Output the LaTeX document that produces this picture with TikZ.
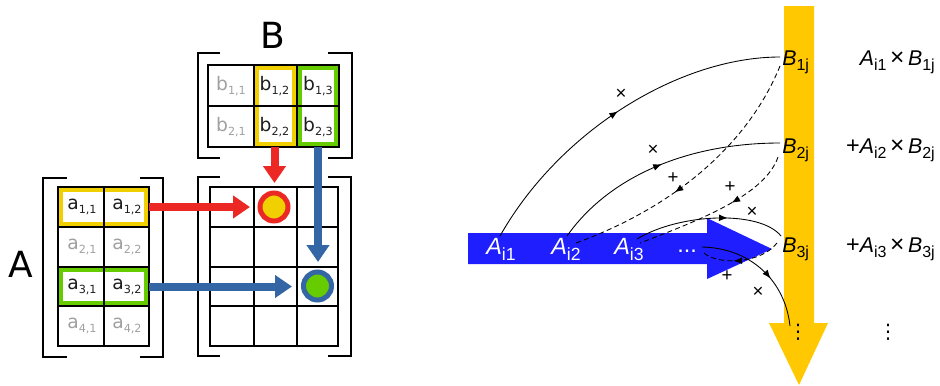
\documentclass[tikz,border=0pt]{standalone}
\usepackage{fontspec}
\setmainfont{Liberation Sans}
\newfontfamily\dejavu{DejaVu Sans}
\usetikzlibrary{arrows.meta,decorations.markings}

\definecolor{hlred}{RGB}{236,40,36}
\definecolor{hlblue}{RGB}{52,101,164}
\definecolor{hlyellow}{RGB}{240,208,0}
\definecolor{hlgreen}{RGB}{102,204,0}
\definecolor{celltext}{RGB}{30,30,30}
\definecolor{cellgrey}{RGB}{160,160,160}
\definecolor{bigblue}{RGB}{30,30,255}
\definecolor{bigorange}{RGB}{255,200,0}

\newcommand{\lsub}[1]{\raisebox{-0.22em}{\scalebox{0.6}{#1}}}
\newcommand{\rsub}[1]{\raisebox{-0.27em}{\scalebox{0.75}{\upshape #1}}}

\tikzset{
  gridline/.style={line width=1.1pt, black, line cap=rect},
  bracket/.style={line width=2.2pt, black},
  hlbox/.style={line width=3.75pt},
  fatarrow/.style={line width=6pt, -{Triangle[length=12.75pt, width=16.5pt]}},
  celltxt/.style={font=\dejavu\fontsize{14}{16}\selectfont, text=celltext, inner sep=0},
  cellgr/.style={font=\dejavu\fontsize{14}{16}\selectfont, text=cellgrey, inner sep=0},
  biglab/.style={font=\dejavu\fontsize{27}{30}\selectfont, inner sep=0},
  ring/.style={circle, line width=3.75pt, minimum size=21pt, inner sep=0},
  alab/.style={anchor=base west, inner sep=0, text=white, font=\fontsize{17.6}{20}\selectfont},
  blab/.style={anchor=base west, inner sep=0, font=\fontsize{16}{18}\selectfont},
  rlab/.style={anchor=base east, inner sep=0, font=\fontsize{16}{18}\selectfont},
  vdotlab/.style={inner sep=0, font=\dejavu\fontsize{15}{17}\selectfont},
  oplab/.style={inner sep=0, font=\fontsize{14}{14}\selectfont},
  solidc/.style={line width=0.65pt, black},
  dashc/.style={line width=0.65pt, black, dash pattern=on 3.8pt off 2.4pt},
  midarrow/.style={postaction={decorate}, decoration={markings,
     mark=at position #1 with {\arrow{Latex[length=6.5pt,width=5pt]}}}},
}

\begin{document}
\begin{tikzpicture}[x=0.75pt, y=-0.75pt]
\useasboundingbox (0,0) rectangle (940,386);

% ================= LEFT PART =================
% labels
\node[biglab] (labB) at (273,35) {B};
\node[biglab] (labA) at (21,264) {A};

% highlight boxes
\draw[hlbox, hlyellow] (60.5,189.5) rectangle (146.5,224.5);
\draw[hlbox, hlgreen] (60.5,269.5) rectangle (146.5,303.5);
\draw[hlbox, hlyellow] (256,67.5) rectangle (294.5,144.5);
\draw[hlbox, hlgreen] (299.5,67.5) rectangle (336.5,144.5);

% A grid
\foreach \y in {187,227,267,306,346} \draw[gridline] (58,\y) -- (149,\y);
\foreach \x in {58,104,149} \draw[gridline] (\x,187) -- (\x,346);
% B grid
\foreach \y in {65,106,147} \draw[gridline] (208,\y) -- (339,\y);
\foreach \x in {208,254,297,339} \draw[gridline] (\x,65) -- (\x,147);
% C grid
\foreach \y in {187,227,267,306,346} \draw[gridline] (210,\y) -- (338,\y);
\foreach \x in {210,254,297,338} \draw[gridline] (\x,187) -- (\x,346);

% brackets
\draw[bracket] (67,178) -- (43,178) -- (43,357) -- (67,357);
\draw[bracket] (140,178) -- (163,178) -- (163,357) -- (140,357);
\draw[bracket] (220,53) -- (198,53) -- (198,158) -- (220,158);
\draw[bracket] (328,53) -- (352,53) -- (352,158) -- (328,158);
\draw[bracket] (220,177) -- (198,177) -- (198,356) -- (220,356);
\draw[bracket] (328,177) -- (351,177) -- (351,356) -- (328,356);

% A entries
\node[celltxt] (a11) at (82,207) {a\lsub{1,1}};
\node[celltxt] (a12) at (127,207) {a\lsub{1,2}};
\node[cellgr]  (a21) at (82,247) {a\lsub{2,1}};
\node[cellgr]  (a22) at (127,247) {a\lsub{2,2}};
\node[celltxt] (a31) at (82,286.5) {a\lsub{3,1}};
\node[celltxt] (a32) at (127,286.5) {a\lsub{3,2}};
\node[cellgr]  (a41) at (82,326) {a\lsub{4,1}};
\node[cellgr]  (a42) at (127,326) {a\lsub{4,2}};
% B entries
\node[cellgr]  (b11) at (231,86) {b\lsub{1,1}};
\node[celltxt] (b12) at (274.5,86) {b\lsub{1,2}};
\node[celltxt] (b13) at (318,86) {b\lsub{1,3}};
\node[cellgr]  (b21) at (231,127) {b\lsub{2,1}};
\node[celltxt] (b22) at (274.5,127) {b\lsub{2,2}};
\node[celltxt] (b23) at (318,127) {b\lsub{2,3}};

% result circles
\node[ring, draw=hlred, fill=hlyellow] (c12) at (274,207) {};
\node[ring, draw=hlblue, fill=hlgreen] (c32) at (317.5,286) {};

% arrows
\coordinate (rowA1) at (149,207);
\coordinate (rowA3) at (149,286.5);
\coordinate (colB2) at (274.5,147);
\coordinate (colB3) at (318,147);
\coordinate (tipR1) at (250,207);
\coordinate (tipR2) at (274.5,183);
\coordinate (tipB1) at (292,286.5);
\coordinate (tipB2) at (318,262);
\draw[fatarrow, hlred] (rowA1) -- (tipR1);
\draw[fatarrow, hlred] (colB2) -- (tipR2);
\draw[fatarrow, hlblue] (rowA3) -- (tipB1);
\draw[fatarrow, hlblue] (colB3) -- (tipB2);

% ================= RIGHT PART =================
\fill[bigorange] (784,6) -- (814,6) -- (814,323) -- (828,323) -- (799,385) -- (769,323) -- (784,323) -- cycle;
\fill[bigblue] (468,233) -- (707,233) -- (707,218) -- (772,249) -- (707,279) -- (707,264) -- (468,264) -- cycle;

% labels on blue arrow
\node[alab] (Ai1) at (486,254) {\textit{A}\rsub{i1}};
\node[alab] (Ai2) at (551,254) {\textit{A}\rsub{i2}};
\node[alab] (Ai3) at (614,254) {\textit{A}\rsub{i3}};
\node[alab] (Adots) at (677,252) {...};

% labels on orange arrow
\node[blab] (B1) at (782,65) {\textit{B}\rsub{1j}};
\node[blab] (B2) at (782,153) {\textit{B}\rsub{2j}};
\node[blab] (B3) at (782,252) {\textit{B}\rsub{3j}};
\node[vdotlab] (Bdots) at (798,332) {⋮};

% right column
\node[rlab] (r1) at (935,65) {\textit{A}\rsub{i1}\,\scalebox{1.15}{×}\,\textit{B}\rsub{1j}};
\node[rlab] (r2) at (935,153) {\scalebox{1.1}{+}\textit{A}\rsub{i2}\,\scalebox{1.15}{×}\,\textit{B}\rsub{2j}};
\node[rlab] (r3) at (935,252) {\scalebox{1.1}{+}\textit{A}\rsub{i3}\,\scalebox{1.15}{×}\,\textit{B}\rsub{3j}};
\node[vdotlab] (rdots) at (888,332) {⋮};

% curve end points
\coordinate (s1a) at (500,236);
\coordinate (s1b) at (780,57);
\coordinate (s2a) at (567,236);
\coordinate (s2b) at (780,143);
\coordinate (s3a) at (637,239);
\coordinate (s3b) at (781,236);
\coordinate (s4a) at (702,247);
\coordinate (s4b) at (790,326);
\coordinate (d1a) at (780,66);
\coordinate (d1b) at (576,243);
\coordinate (d2a) at (778,157);
\coordinate (d2b) at (640,243);
\coordinate (d3a) at (777,243);
\coordinate (d3b) at (703,252);

% solid (multiply) curves
\draw[solidc, midarrow=0.5] (s1a) .. controls (560,130) and (680,57) .. (s1b);
\draw[solidc, midarrow=0.5] (s2a) .. controls (610,175) and (690,143) .. (s2b);
\draw[solidc, midarrow=0.62] (s3a) .. controls (680,213) and (760,210) .. (s3b);
\draw[solidc, midarrow=0.6] (s4a) .. controls (750,248) and (785,280) .. (s4b);
% dashed (add) curves
\draw[dashc, midarrow=0.6] (d1a) .. controls (750,140) and (680,205) .. (d1b);
\draw[dashc, midarrow=0.4] (d2a) .. controls (765,195) and (700,220) .. (d2b);
\draw[dashc, midarrow=0.6] (d3a) .. controls (760,265) and (715,265) .. (d3b);

% operator marks
\node[oplab] (x1) at (621,94) {×};
\node[oplab] (x2) at (653,150) {×};
\node[oplab] (x3) at (752,212) {×};
\node[oplab] (x4) at (758,292) {×};
\node[oplab] (p1) at (673,178) {+};
\node[oplab] (p2) at (730,187) {+};
\node[oplab] (p3) at (727,276) {+};
\end{tikzpicture}
\end{document}
